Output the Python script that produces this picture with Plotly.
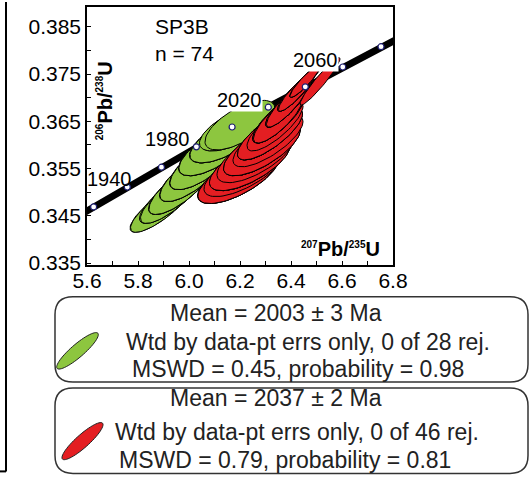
import numpy as np
import plotly.graph_objects as go

# ---------------- data ----------------
# Concordia age marks (Ma) and their ratio coordinates
conc_age = [1900, 1920, 1940, 1960, 1980, 2000, 2020, 2040, 2060, 2080, 2100]
conc_x = [5.497, 5.626, 5.758, 5.892, 6.029, 6.169, 6.311, 6.456, 6.603, 6.753, 6.911]
conc_y = [0.3428, 0.3469, 0.3511, 0.3553, 0.3596, 0.3638, 0.3680, 0.3723, 0.3765, 0.3808, 0.3851]
conc_labels = ["1940", "1980", "2020", "2060"]

# Group 1 (green, 28 analyses): centre x, centre y, 2s half-width x, 2s half-width y, rho
g_cx = [5.8863, 5.8863,
        5.9255, 5.9255, 5.9255,
        5.9647, 5.9647, 5.9647, 5.9647,
        6.0118, 6.0118, 6.0118, 6.0118,
        6.0549, 6.0549, 6.0549, 6.0549,
        6.0980, 6.0980, 6.0980, 6.0980,
        6.1451, 6.1451, 6.1451, 6.1451,
        6.1843, 6.1843, 6.2000]
g_cy = [0.34656, 0.34656,
        0.34866, 0.34866, 0.34866,
        0.35076, 0.35076, 0.35076, 0.35076,
        0.35349, 0.35349, 0.35349, 0.35349,
        0.35601, 0.35601, 0.35601, 0.35601,
        0.35874, 0.35874, 0.35874, 0.35874,
        0.36126, 0.36126, 0.36126, 0.36126,
        0.36357, 0.36357, 0.36420]
g_sx = [0.1176, 0.1156,
        0.1176, 0.1196, 0.1156,
        0.1216, 0.1236, 0.1196, 0.1216,
        0.1255, 0.1275, 0.1235, 0.1255,
        0.1294, 0.1314, 0.1274, 0.1294,
        0.1373, 0.1393, 0.1353, 0.1373,
        0.1412, 0.1432, 0.1392, 0.1412,
        0.1412, 0.1432, 0.1373]
g_sy = [0.00504, 0.00504,
        0.00525, 0.00525, 0.00525,
        0.00546, 0.00546, 0.00546, 0.00546,
        0.00546, 0.00546, 0.00546, 0.00546,
        0.00546, 0.00546, 0.00546, 0.00546,
        0.00525, 0.00525, 0.00525, 0.00525,
        0.00504, 0.00504, 0.00504, 0.00504,
        0.00483, 0.00483, 0.00525]
g_rho = [0.82, 0.82,
         0.80, 0.80, 0.80,
         0.78, 0.78, 0.78, 0.78,
         0.76, 0.76, 0.76, 0.76,
         0.74, 0.74, 0.74, 0.74,
         0.70, 0.70, 0.70, 0.70,
         0.68, 0.68, 0.68, 0.68,
         0.66, 0.66, 0.66]

# Group 2 (red, 46 analyses)
r_cx = [6.1922, 6.1922, 6.1922, 6.1922, 6.2157,
        6.2392, 6.2392, 6.2392, 6.2392, 6.2392, 6.2627,
        6.2863, 6.2863, 6.2863, 6.2863, 6.2863, 6.3098,
        6.3176, 6.3176, 6.3176, 6.3176, 6.3176, 6.3373,
        6.3490, 6.3490, 6.3490, 6.3490, 6.3490, 6.3490,
        6.3843, 6.3843, 6.3843, 6.3843, 6.3843, 6.3843,
        6.4196, 6.4196, 6.4196, 6.4196, 6.4196, 6.4196,
        6.4549, 6.4549, 6.4549, 6.4549,
        6.5137]
r_cy = [0.35307, 0.35307, 0.35307, 0.35307, 0.35454,
        0.35601, 0.35601, 0.35601, 0.35601, 0.35601, 0.35769,
        0.35916, 0.35916, 0.35916, 0.35916, 0.35916, 0.36084,
        0.36231, 0.36231, 0.36231, 0.36231, 0.36231, 0.36399,
        0.36546, 0.36546, 0.36546, 0.36546, 0.36546, 0.36546,
        0.36840, 0.36840, 0.36840, 0.36840, 0.36840, 0.36840,
        0.37113, 0.37113, 0.37113, 0.37113, 0.37113, 0.37113,
        0.37345, 0.37345, 0.37345, 0.37345,
        0.37345]
r_sx = [0.1569, 0.1589, 0.1549, 0.1569, 0.1569,
        0.1569, 0.1589, 0.1549, 0.1569, 0.1589, 0.1529,
        0.1490, 0.1510, 0.1470, 0.1490, 0.1510, 0.1373,
        0.1255, 0.1275, 0.1235, 0.1255, 0.1275, 0.1098,
        0.0980, 0.1000, 0.0960, 0.0980, 0.1000, 0.0960,
        0.0824, 0.0844, 0.0804, 0.0824, 0.0844, 0.0804,
        0.0706, 0.0726, 0.0686, 0.0706, 0.0726, 0.0686,
        0.0588, 0.0608, 0.0568, 0.0588,
        0.0784]
r_sy = [0.00546, 0.00546, 0.00546, 0.00546, 0.00546,
        0.00567, 0.00567, 0.00567, 0.00567, 0.00567, 0.00567,
        0.00567, 0.00567, 0.00567, 0.00567, 0.00567, 0.00546,
        0.00546, 0.00546, 0.00546, 0.00546, 0.00546, 0.00525,
        0.00504, 0.00504, 0.00504, 0.00504, 0.00504, 0.00504,
        0.00462, 0.00462, 0.00462, 0.00462, 0.00462, 0.00462,
        0.00399, 0.00399, 0.00399, 0.00399, 0.00399, 0.00399,
        0.00336, 0.00336, 0.00336, 0.00336,
        0.00504]
r_rho = [0.70, 0.70, 0.70, 0.70, 0.70,
         0.70, 0.70, 0.70, 0.70, 0.70, 0.70,
         0.72, 0.72, 0.72, 0.72, 0.72, 0.75,
         0.78, 0.78, 0.78, 0.78, 0.78, 0.80,
         0.82, 0.82, 0.82, 0.82, 0.82, 0.82,
         0.87, 0.87, 0.87, 0.87, 0.87, 0.87,
         0.90, 0.90, 0.90, 0.90, 0.90, 0.90,
         0.92, 0.92, 0.92, 0.92,
         0.95]

x_tickvals = [5.6, 5.7, 5.8, 5.9, 6.0, 6.1, 6.2, 6.3, 6.4, 6.5, 6.6, 6.7, 6.8]
x_ticktext = ["5.6", "", "5.8", "", "6.0", "", "6.2", "", "6.4", "", "6.6", "", "6.8"]
y_tickvals = [0.335, 0.340, 0.345, 0.350, 0.355, 0.360, 0.365, 0.370, 0.375, 0.380, 0.385]
y_ticktext = ["0.335", "", "0.345", "", "0.355", "", "0.365", "", "0.375", "", "0.385"]

legend_lines_1 = ["Mean = 2003 ± 3 Ma", "Wtd by data-pt errs only, 0 of 28 rej.",
                  "MSWD = 0.45, probability = 0.98"]
legend_lines_2 = ["Mean = 2037 ± 2 Ma", "Wtd by data-pt errs only, 0 of 46 rej.",
                  "MSWD = 0.79, probability = 0.81"]

GREEN = "#8DC63F"
RED = "#E41E22"
FONT = "Arial, Liberation Sans, sans-serif"

# ---------------- layout geometry (pixels) ----------------
W, H = 530, 477
L, R, T, B = 87, 137, 5, 212
PW, PH = W - L - R, H - T - B


def px(x):
    return (x - L) / PW


def py(y):
    return (H - B - y) / PH


def ellipse_xy(cx, cy, sx, sy, rho, n=72):
    t = np.linspace(0, 2 * np.pi, n)
    x = cx + sx * np.cos(t)
    y = cy + sy * (rho * np.cos(t) + np.sqrt(1 - rho ** 2) * np.sin(t))
    return x, y


fig = go.Figure()

# concordia band
fig.add_trace(go.Scatter(x=conc_x, y=conc_y, mode="lines",
                         line=dict(color="black", width=7), hoverinfo="skip", showlegend=False))


def add_group(cx, cy, sx, sy, rho, color):
    order = np.argsort(cy, kind="stable")
    for i in order:
        ex, ey = ellipse_xy(cx[i], cy[i], sx[i], sy[i], rho[i])
        fig.add_trace(go.Scatter(x=ex, y=ey, mode="lines", fill="toself", fillcolor=color,
                                 line=dict(color="black", width=1), hoverinfo="skip",
                                 showlegend=False))


add_group(g_cx, g_cy, g_sx, g_sy, g_rho, GREEN)
add_group(r_cx, r_cy, r_sx, r_sy, r_rho, RED)

# concordia age markers
fig.add_trace(go.Scatter(x=conc_x, y=conc_y, mode="markers",
                         marker=dict(size=6, color="white", line=dict(color="#1c1c70", width=1.2)),
                         hoverinfo="skip", showlegend=False))

# concordia labels (anchored bottom-right)
label_pos = {"1940": (133, 190), "1980": (191, 150), "2020": (263, 111), "2060": (339, 70)}
annotations = []
for lab in conc_labels:
    lx, ly = label_pos[lab]
    annotations.append(dict(x=px(lx), y=py(ly), xref="paper", yref="paper", text=lab,
                            showarrow=False, xanchor="right", yanchor="bottom",
                            font=dict(family=FONT, size=20, color="black"),
                            bgcolor="white" if lab in ("2020", "2060") else "rgba(0,0,0,0)",
                            borderpad=0))


def centered(text, x, y, size, color="black", angle=0):
    return dict(x=px(x), y=py(y), xref="paper", yref="paper", text=text, showarrow=False,
                xanchor="center", yanchor="middle", textangle=angle,
                font=dict(family=FONT, size=size, color=color))


annotations.append(centered("SP3B", 182, 25, 21))
annotations.append(centered("n = 74", 184, 52, 21))

sup = "<sup><span style='font-size:10px'>{}</span></sup>"
annotations.append(centered("<b>" + sup.format("206") + "Pb/" + sup.format("238") + "U</b>",
                            105, 100, 20, angle=-90))
annotations.append(centered("<b>" + sup.format("207") + "Pb/" + sup.format("235") + "U</b>",
                            340, 249, 20))

for lines, ys, xs in ((legend_lines_1, (313, 343, 370), (276, 308, 298)),
                      (legend_lines_2, (399, 433, 462), (276, 297, 285))):
    for txt, yy, xx in zip(lines, ys, xs):
        annotations.append(centered(txt, xx, yy, 23, color="#222222"))

shapes = []


def rounded_rect(x0, y0, x1, y1, r):
    pts = [("M", x0 + r, y0), ("L", x1 - r, y0), ("Q", x1, y0, x1, y0 + r), ("L", x1, y1 - r),
           ("Q", x1, y1, x1 - r, y1), ("L", x0 + r, y1), ("Q", x0, y1, x0, y1 - r),
           ("L", x0, y0 + r), ("Q", x0, y0, x0 + r, y0)]
    s = ""
    for p in pts:
        if p[0] == "Q":
            s += "Q{:.5f},{:.5f} {:.5f},{:.5f} ".format(px(p[1]), py(p[2]), px(p[3]), py(p[4]))
        else:
            s += "{}{:.5f},{:.5f} ".format(p[0], px(p[1]), py(p[2]))
    return s + "Z"


for (y0, y1) in ((297, 383), (389, 475)):
    shapes.append(dict(type="path", xref="paper", yref="paper", path=rounded_rect(55, y0, 528, y1, 18),
                       line=dict(color="#333333", width=1.5), fillcolor="rgba(0,0,0,0)", layer="above"))


def glyph_path(cxp, cyp, a, b, ang_deg):
    t = np.linspace(0, 2 * np.pi, 60)
    th = np.deg2rad(ang_deg)
    xs = cxp + a * np.cos(t) * np.cos(th) - b * np.sin(t) * np.sin(th)
    ys = cyp - (a * np.cos(t) * np.sin(th) + b * np.sin(t) * np.cos(th))
    s = "M" + " L".join("{:.5f},{:.5f}".format(px(x), py(y)) for x, y in zip(xs, ys))
    return s + " Z"


shapes.append(dict(type="path", xref="paper", yref="paper", path=glyph_path(77.5, 351.5, 27, 6.5, 41),
                   fillcolor=GREEN, line=dict(color="#222222", width=1), layer="above"))
shapes.append(dict(type="path", xref="paper", yref="paper", path=glyph_path(82.5, 442.5, 27, 6.5, 42),
                   fillcolor=RED, line=dict(color="#222222", width=1), layer="above"))

# frame fragment of the neighbouring panel at left
shapes.append(dict(type="line", xref="paper", yref="paper", x0=px(6), x1=px(6), y0=py(0), y1=py(473),
                   line=dict(color="black", width=2)))
shapes.append(dict(type="line", xref="paper", yref="paper", x0=px(0), x1=px(6), y0=py(473), y1=py(473),
                   line=dict(color="black", width=2)))

fig.update_layout(
    width=W, height=H, margin=dict(l=L, r=R, t=T, b=B),
    paper_bgcolor="white", plot_bgcolor="white",
    annotations=annotations, shapes=shapes, showlegend=False,
    xaxis=dict(range=[5.6, 6.8], tickvals=x_tickvals, ticktext=x_ticktext, ticks="inside",
               ticklen=4, tickcolor="black", showline=True, linecolor="black", linewidth=1.5,
               mirror=True, showgrid=False, zeroline=False, ticklabelstandoff=-4,
               tickfont=dict(family=FONT, size=21, color="black")),
    yaxis=dict(range=[0.3346, 0.3892], tickvals=y_tickvals, ticktext=y_ticktext, ticks="inside",
               ticklen=4, tickcolor="black", showline=True, linecolor="black", linewidth=1.5,
               mirror=True, showgrid=False, zeroline=False,
               tickfont=dict(family=FONT, size=21, color="black")),
)

fig.write_html("out.html")
